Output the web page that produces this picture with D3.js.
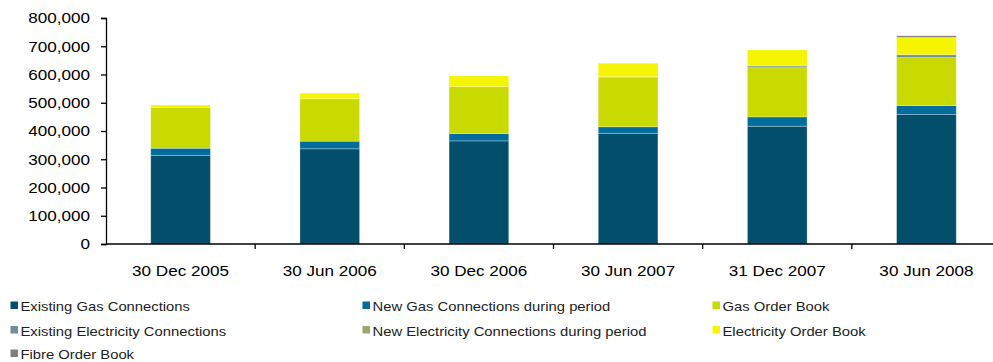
<!DOCTYPE html>
<html>
<head>
<meta charset="utf-8">
<script src="https://cdn.jsdelivr.net/npm/d3@7/dist/d3.min.js"></script>
<style>
  html, body { margin: 0; padding: 0; background: #fff; }
  svg { display: block; font-family: "Liberation Sans", Arial, sans-serif; }
</style>
</head>
<body>
<svg id="chart" width="993" height="362"></svg>
<script>
// Reporting dates
const categories = ["30 Dec 2005", "30 Jun 2006", "30 Dec 2006", "30 Jun 2007", "31 Dec 2007", "30 Jun 2008"];

// Connection counts per series, bottom of the stack first
const seriesNames = [
  "Existing Gas Connections",
  "New Gas Connections during period",
  "Gas Order Book",
  "Existing Electricity Connections",
  "New Electricity Connections during period",
  "Electricity Order Book",
  "Fibre Order Book"
];
const existingGas     = [314000, 337000, 365000, 392000, 417000, 458000];
const newGas          = [25000, 27000, 26000, 23000, 33000, 32000];
const gasOrderBook    = [144000, 150000, 166000, 175000, 174000, 170000];
const existingElec    = [0, 0, 0, 2000, 6000, 10000];
const newElec         = [0, 0, 0, 0, 0, 0];
const elecOrderBook   = [9000, 20000, 38000, 48000, 57000, 61000];
const fibreOrderBook  = [0, 0, 0, 0, 0, 6000];

const yTicks = [0, 100000, 200000, 300000, 400000, 500000, 600000, 700000, 800000];

const colors = ["#034f6b", "#026d9d", "#c8da00", "#6f8d9b", "#a0a56e", "#f5f500", "#7f7f7f"];

const seriesValues = [existingGas, newGas, gasOrderBook, existingElec, newElec, elecOrderBook, fibreOrderBook];
const rows = categories.map((c, i) => {
  const r = { category: c };
  seriesNames.forEach((s, k) => { r[s] = seriesValues[k][i]; });
  return r;
});

const svg = d3.select("#chart");
const TX = 1.14; // horizontal stretch of the lettering

const x = d3.scaleBand().domain(categories).range([106, 1001]).padding(0);
const y = d3.scaleLinear().domain([0, 800000]).range([244, 18]);

const stack = d3.stack().keys(seriesNames);
const layers = stack(rows);

const barW = x.bandwidth() * 0.4;
const barOff = (x.bandwidth() - barW) / 2;

svg.append("g")
  .selectAll("g")
  .data(layers)
  .join("g")
  .attr("fill", (d, i) => colors[i])
  .selectAll("rect")
  .data(d => d.filter(p => p[1] - p[0] > 0))
  .join("rect")
  .attr("x", d => x(d.data.category) + barOff)
  .attr("width", barW)
  .attr("y", d => y(d[1]))
  .attr("height", d => y(d[0]) - y(d[1]))
  .attr("stroke", "rgba(255,255,255,0.35)")
  .attr("stroke-width", 0.8);

// Y axis
const yAxis = svg.append("g")
  .attr("transform", "translate(106,0)")
  .call(d3.axisLeft(y).tickValues(yTicks).tickFormat(d3.format(",")).tickSize(5).tickPadding(0));
yAxis.select(".domain").attr("stroke", "#000").attr("stroke-width", 1.3);
yAxis.selectAll(".tick line").attr("stroke", "#000").attr("stroke-width", 1.3);
yAxis.selectAll(".tick text")
  .attr("x", -16 / TX)
  .attr("transform", `scale(${TX},1)`)
  .attr("fill", "#000")
  .style("font-size", "15px")
  .style("font-family", "'Liberation Sans', Arial, sans-serif");

// X axis: line along zero, ticks between categories
const xAxisG = svg.append("g");
xAxisG.append("line")
  .attr("x1", 106).attr("x2", 993)
  .attr("y1", y(0)).attr("y2", y(0))
  .attr("stroke", "#000").attr("stroke-width", 1.5);
xAxisG.selectAll("line.sep")
  .data(categories.slice(1))
  .join("line")
  .attr("class", "sep")
  .attr("x1", d => x(d)).attr("x2", d => x(d))
  .attr("y1", y(0)).attr("y2", y(0) + 5)
  .attr("stroke", "#000").attr("stroke-width", 1.3);
xAxisG.selectAll("text")
  .data(categories)
  .join("text")
  .attr("transform", d => `translate(${x(d) + x.bandwidth() / 2},276) scale(${TX},1)`)
  .attr("text-anchor", "middle")
  .attr("fill", "#000")
  .style("font-size", "15px")
  .text(d => d);

// Legend, three columns
const legendCols = [10.5, 362.5, 712.5];
const legendRows = [311, 335.5, 359];
const legend = svg.append("g")
  .selectAll("g")
  .data(seriesNames)
  .join("g")
  .attr("transform", (d, i) => `translate(${legendCols[i % 3]},${legendRows[Math.floor(i / 3)]})`);
legend.append("rect")
  .attr("x", 0).attr("y", -9.5)
  .attr("width", 7.5).attr("height", 7.5)
  .attr("fill", (d, i) => colors[i]);
legend.append("text")
  .attr("transform", `translate(10,0) scale(${TX},1)`)
  .attr("fill", "#222")
  .style("font-size", "13px")
  .text(d => d);
</script>
</body>
</html>
